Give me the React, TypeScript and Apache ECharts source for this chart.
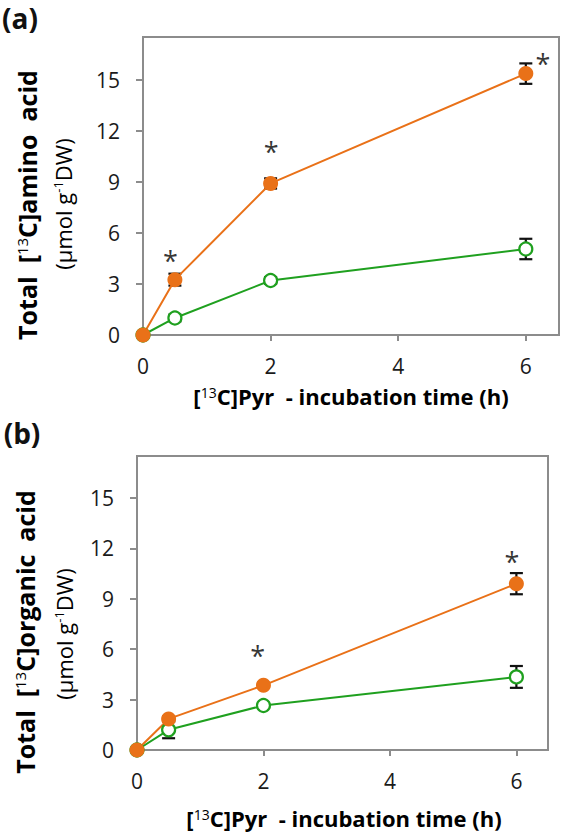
import React, { useEffect, useRef } from "react";
import * as echarts from "echarts";

// ---- data ----
const times = [0, 0.5, 2, 6];
const xTicks = [0, 2, 4, 6];
const yTicks = [0, 3, 6, 9, 12, 15];

// (a) Total [13C]amino acid
const aminoOrange = [0, 3.25, 8.9, 15.35];
const aminoOrangeErr = [0, 0.35, 0.3, 0.6];
const aminoGreen = [0, 1.0, 3.2, 5.05];
const aminoGreenErr = [0, 0.2, 0.2, 0.6];
const aminoStars: [number, number][] = [
  [0.43, 4.7],
  [2.01, 11.1],
  [6.27, 16.3],
];

// (b) Total [13C]organic acid
const organicOrange = [0, 1.85, 3.85, 9.9];
const organicOrangeErr = [0, 0.15, 0.15, 0.63];
const organicGreen = [0, 1.2, 2.65, 4.35];
const organicGreenErr = [0, 0.5, 0.15, 0.65];
const organicStars: [number, number][] = [
  [1.91, 6.0],
  [5.93, 11.6],
];

const ORANGE = "#E97118";
const GREEN = "#1FA01F";
const GREY = "#8C8C8C";
const FONT = "Open Sans";

const pairs = (xs: number[], ys: number[]) => xs.map((x, i) => [x, ys[i]]);
const triples = (xs: number[], ys: number[], es: number[]) =>
  xs.map((x, i) => [x, ys[i], es[i]]);

function errorSeries(idx: number, data: number[][]) {
  return {
    type: "custom",
    xAxisIndex: idx,
    yAxisIndex: idx,
    z: 1,
    data: data.filter((d) => d[2] > 0),
    renderItem: (params: any, api: any) => {
      const x = api.value(0);
      const y = api.value(1);
      const e = api.value(2);
      const top = api.coord([x, y + e]);
      const bot = api.coord([x, y - e]);
      const hw = 6.5;
      const st = { stroke: "#111", lineWidth: 2.2 };
      return {
        type: "group",
        children: [
          { type: "line", shape: { x1: top[0], y1: top[1], x2: bot[0], y2: bot[1] }, style: st },
          { type: "line", shape: { x1: top[0] - hw, y1: top[1], x2: top[0] + hw, y2: top[1] }, style: st },
          { type: "line", shape: { x1: bot[0] - hw, y1: bot[1], x2: bot[0] + hw, y2: bot[1] }, style: st },
        ],
      };
    },
  };
}

function lineSeries(idx: number, data: number[][], color: string, hollow: boolean) {
  return {
    type: "line",
    xAxisIndex: idx,
    yAxisIndex: idx,
    z: 3,
    data,
    symbol: "circle",
    symbolSize: hollow ? 13 : 15,
    lineStyle: { color, width: 2 },
    itemStyle: hollow
      ? { color: "#fff", borderColor: color, borderWidth: 2.2 }
      : { color, borderWidth: 0 },
  };
}

function starSeries(idx: number, data: [number, number][]) {
  return {
    type: "scatter",
    xAxisIndex: idx,
    yAxisIndex: idx,
    z: 4,
    data,
    symbolSize: 1,
    itemStyle: { color: "rgba(0,0,0,0)" },
    label: {
      show: true,
      position: "inside",
      formatter: "*",
      fontFamily: FONT,
      fontWeight: "normal",
      fontSize: 27,
      color: "#000",
      offset: [0, 6],
    },
  };
}

function xAxis(idx: number, max: number) {
  return {
    type: "value",
    gridIndex: idx,
    min: 0,
    max,
    interval: 2,
    axisLine: { show: true, lineStyle: { color: GREY, width: 2 } },
    axisTick: { show: true, length: 6, lineStyle: { color: GREY, width: 2 }, customValues: xTicks },
    axisLabel: { customValues: xTicks, margin: 20, fontFamily: FONT, fontSize: 21, color: "#1a1a1a" },
    splitLine: { show: false },
  };
}

function yAxis(idx: number) {
  return {
    type: "value",
    gridIndex: idx,
    min: 0,
    max: 17.5,
    interval: 3,
    axisLine: { show: true, lineStyle: { color: GREY, width: 2 } },
    axisTick: { show: true, length: 7, lineStyle: { color: GREY, width: 2 }, customValues: yTicks },
    axisLabel: { customValues: yTicks, margin: 23, fontFamily: FONT, fontSize: 21, color: "#1a1a1a" },
    splitLine: { show: false },
  };
}

const boldRich = {
  b: { fontFamily: FONT, fontWeight: "bold", fontSize: 25, color: "#111" },
  s: { fontFamily: FONT, fontWeight: "normal", fontSize: 15, color: "#111", padding: [0, 0, 11, 0] },
};
const regRich = {
  r: { fontFamily: FONT, fontWeight: "normal", fontSize: 22, color: "#222" },
  s: { fontFamily: FONT, fontWeight: "normal", fontSize: 13, color: "#222", padding: [0, 0, 10, 0] },
};
const xRich = {
  b: { fontFamily: FONT, fontWeight: "bold", fontSize: 22, color: "#111" },
  s: { fontFamily: FONT, fontWeight: "normal", fontSize: 14, color: "#111", padding: [0, 0, 8, 0] },
};

function vText(x: number, y: number, text: string, rich: any) {
  return {
    type: "text",
    x,
    y,
    rotation: Math.PI / 2,
    style: { text, rich, align: "center", verticalAlign: "middle" },
  };
}
function hText(x: number, y: number, text: string, rich: any) {
  return {
    type: "text",
    x,
    y,
    style: { text, rich, align: "center", verticalAlign: "middle" },
  };
}

export default function App() {
  const ref = useRef<HTMLDivElement>(null);
  useEffect(() => {
    if (!ref.current) return;
    const chart = echarts.init(ref.current, undefined, { renderer: "svg" });
    chart.setOption({
      animation: false,
      backgroundColor: "#fff",
      grid: [
        { left: 143, top: 37, width: 416, height: 298, show: true, borderColor: GREY, borderWidth: 2, backgroundColor: "transparent" },
        { left: 137, top: 456, width: 411, height: 294, show: true, borderColor: GREY, borderWidth: 2, backgroundColor: "transparent" },
      ],
      xAxis: [xAxis(0, 6.52), xAxis(1, 6.5)],
      yAxis: [yAxis(0), yAxis(1)],
      series: [
        errorSeries(0, triples(times, aminoGreen, aminoGreenErr)),
        errorSeries(0, triples(times, aminoOrange, aminoOrangeErr)),
        lineSeries(0, pairs(times, aminoGreen), GREEN, true),
        lineSeries(0, pairs(times, aminoOrange), ORANGE, false),
        starSeries(0, aminoStars),
        errorSeries(1, triples(times, organicGreen, organicGreenErr)),
        errorSeries(1, triples(times, organicOrange, organicOrangeErr)),
        lineSeries(1, pairs(times, organicGreen), GREEN, true),
        lineSeries(1, pairs(times, organicOrange), ORANGE, false),
        starSeries(1, organicStars),
      ],
      graphic: [
        { type: "text", x: 20, y: 18, style: { text: "(a)", align: "center", verticalAlign: "middle", font: `bold 28px "${FONT}"`, fill: "#111" } },
        { type: "text", x: 22, y: 433, style: { text: "(b)", align: "center", verticalAlign: "middle", font: `bold 28px "${FONT}"`, fill: "#111" } },
        vText(27, 205, "{b|Total  [}{s|13}{b|C]amino  acid}", boldRich),
        vText(63, 204, "{r|(μmol g}{s|-1}{r|DW)}", regRich),
        hText(351, 396, "{b|[}{s|13}{b|C]Pyr  - incubation time (h)}", xRich),
        vText(25, 632, "{b|Total  [}{s|13}{b|C]organic  acid}", boldRich),
        vText(64, 634, "{r|(μmol g}{s|-1}{r|DW)}", regRich),
        hText(344, 818, "{b|[}{s|13}{b|C]Pyr  - incubation time (h)}", xRich),
      ],
    });
    return () => chart.dispose();
  }, []);
  return (
    <div
      ref={ref}
      style={{ position: "absolute", left: 0, top: 0, width: 562, height: 835 }}
    />
  );
}
